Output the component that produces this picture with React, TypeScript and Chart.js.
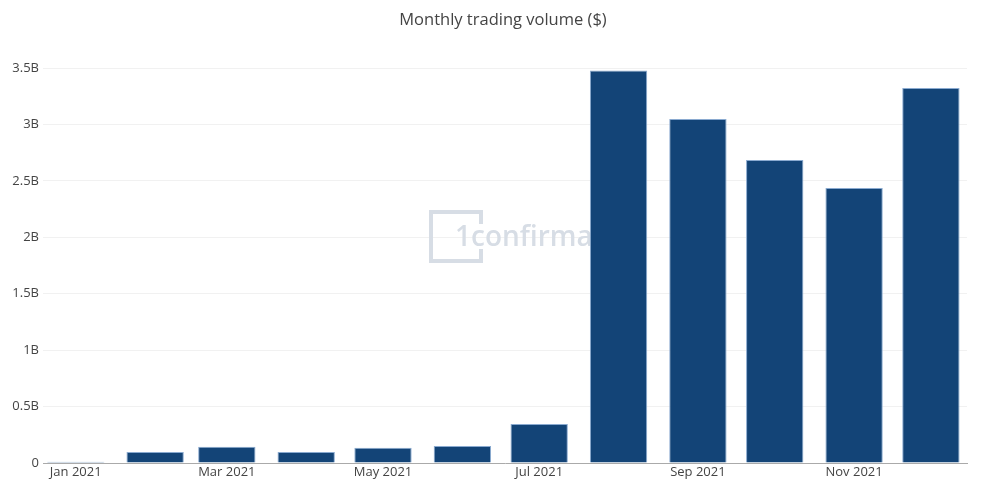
import React, { useEffect, useRef } from "react";
import { Chart, registerables } from "chart.js";

Chart.register(...registerables);

// Months of 2021, positioned by the day-of-year on which each month starts
const monthLabels = [
  "Jan 2021", "Feb 2021", "Mar 2021", "Apr 2021", "May 2021", "Jun 2021",
  "Jul 2021", "Aug 2021", "Sep 2021", "Oct 2021", "Nov 2021", "Dec 2021",
];
const monthStartDay = [0, 31, 59, 90, 120, 151, 181, 212, 243, 273, 304, 334];
const volumeBillions = [0.01, 0.097, 0.145, 0.097, 0.135, 0.15, 0.345, 3.479, 3.048, 2.685, 2.437, 3.323];
const xTickMonths = [0, 2, 4, 6, 8, 10];
const yTickValues = [0, 0.5, 1, 1.5, 2, 2.5, 3, 3.5];
const yTickLabels = ["0", "0.5B", "1B", "1.5B", "2B", "2.5B", "3B", "3.5B"];
const titleText = "Monthly trading volume ($)";
const watermarkText = "1confirmation";

const FONT = "'Open Sans', 'Noto Sans', sans-serif";

const overlayPlugin = {
  id: "overlay",
  beforeDatasetsDraw(chart: any) {
    const ctx = chart.ctx;
    ctx.save();
    const col = "#d7dde5";
    ctx.strokeStyle = col;
    ctx.lineWidth = 4;
    ctx.lineCap = "butt";
    const x0 = 431, y0 = 212, x1 = 481, y1 = 261;
    ctx.beginPath();
    ctx.moveTo(x1, 224);
    ctx.lineTo(x1, y0);
    ctx.lineTo(x0, y0);
    ctx.lineTo(x0, y1);
    ctx.lineTo(x1, y1);
    ctx.lineTo(x1, 249);
    ctx.stroke();
    ctx.fillStyle = col;
    ctx.font = `600 28px ${FONT}`;
    ctx.textBaseline = "alphabetic";
    ctx.textAlign = "left";
    ctx.fillText(watermarkText, 455, 246);
    ctx.restore();
  },
  afterDraw(chart: any) {
    const ctx = chart.ctx;
    ctx.save();
    ctx.fillStyle = "#444";
    ctx.font = `16.5px ${FONT}`;
    ctx.textAlign = "center";
    ctx.textBaseline = "middle";
    ctx.fillText(titleText, 503, 20);
    ctx.restore();
  },
};

export default function App() {
  const ref = useRef<HTMLCanvasElement | null>(null);
  useEffect(() => {
    document.body.style.margin = "0";
    const data = monthStartDay.map((x, i) => ({ x, y: volumeBillions[i] }));
    const chart = new Chart(ref.current as HTMLCanvasElement, {
      type: "bar",
      data: {
        datasets: [
          {
            data: data as any,
            backgroundColor: "#134477",
            borderColor: "#8aaad0",
            borderWidth: 1,
            barPercentage: 0.8,
            categoryPercentage: 1,
          },
        ],
      },
      options: {
        animation: false,
        responsive: false,
        maintainAspectRatio: false,
        layout: { padding: { top: 50, left: 0, right: 40, bottom: 0 } },
        plugins: {
          legend: { display: false },
          tooltip: { enabled: false },
          title: { display: false },
        },
        scales: {
          x: {
            type: "linear",
            min: -12.8,
            max: 348.1,
            offset: false,
            afterFit: (s: any) => { s.height = 41; },
            afterBuildTicks: (s: any) => { s.ticks = xTickMonths.map((m) => ({ value: monthStartDay[m] })); },
            ticks: {
              autoSkip: false,
              maxRotation: 0,
              padding: 1,
              color: "#444",
              font: { family: FONT, size: 13 },
              callback: (v: any) => {
                const i = monthStartDay.indexOf(Number(v));
                return i >= 0 ? monthLabels[i] : "";
              },
            },
            grid: { display: false, drawTicks: false },
            border: { display: true, color: "#aaa", width: 1 },
          },
          y: {
            min: 0,
            max: 3.66,
            afterFit: (s: any) => { s.width = 43; },
            afterBuildTicks: (s: any) => { s.ticks = yTickValues.map((v) => ({ value: v })); },
            ticks: {
              padding: 4,
              color: "#444",
              font: { family: FONT, size: 13 },
              callback: (v: any) => yTickLabels[yTickValues.indexOf(Number(v))] ?? "",
            },
            grid: { color: "#f1f1f1", lineWidth: 1, drawTicks: false },
            border: { display: false },
          },
        },
      },
      plugins: [overlayPlugin],
    });
    return () => chart.destroy();
  }, []);
  return (
    <div style={{ position: "absolute", left: 0, top: 0, width: 1007, height: 504, background: "#fff" }}>
      <canvas ref={ref} width={1007} height={504} style={{ width: 1007, height: 504 }} />
    </div>
  );
}
